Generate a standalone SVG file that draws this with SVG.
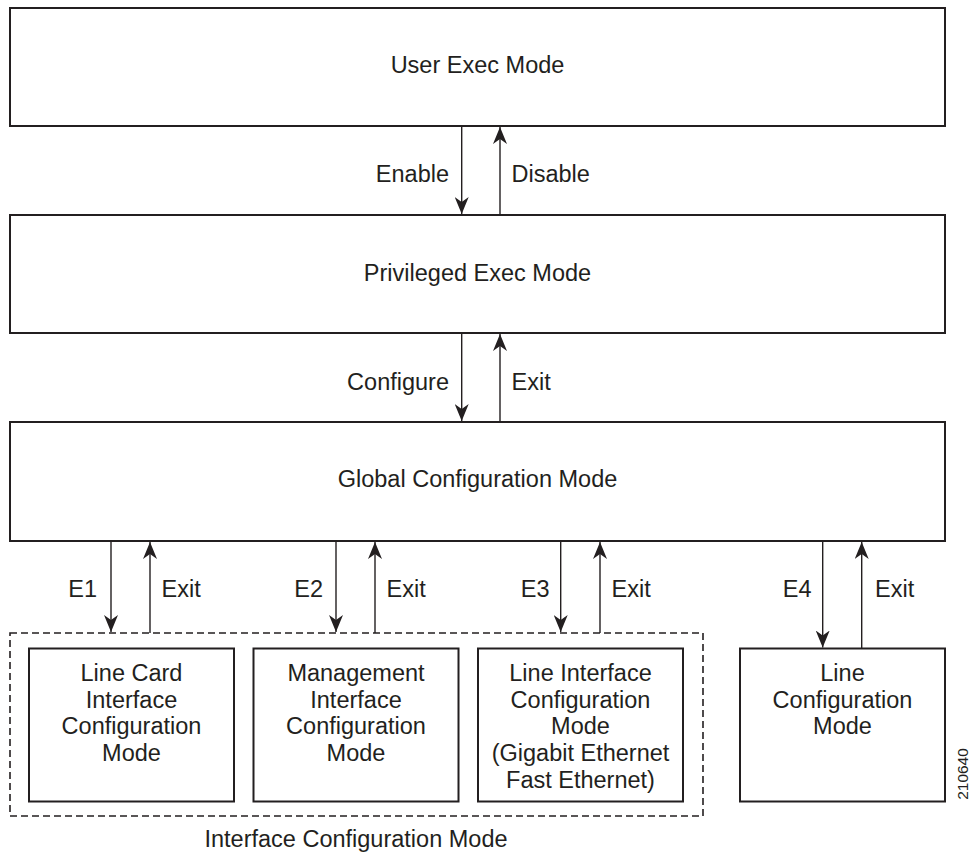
<svg xmlns="http://www.w3.org/2000/svg" width="971" height="854" viewBox="0 0 971 854">
<style>
  .box { fill: #fff; stroke: #231f20; stroke-width: 2; }
  .dash { fill: none; stroke: #231f20; stroke-width: 1.6; stroke-dasharray: 7 4; }
  .t { font-family: "Liberation Sans", Arial, Helvetica, sans-serif; font-size: 23.5px; fill: #231f20; }
  .c { text-anchor: middle; }
  .r { text-anchor: end; }
  .conn line { stroke: #231f20; stroke-width: 1.4; }
  .small { font-family: "Liberation Sans", Arial, sans-serif; font-size: 15.5px; fill: #231f20; text-anchor: middle; }
</style>
<defs>
  <marker id="ah" viewBox="0 0 17 14" refX="17" refY="7" markerWidth="17" markerHeight="14" markerUnits="userSpaceOnUse" orient="auto">
    <path d="M0,0 L17,7 L0,14 L5,7 Z" fill="#231f20"/>
  </marker>
</defs>
<rect width="971" height="854" fill="#fff"/>

<g id="user-exec">
  <rect class="box" x="10" y="8" width="935" height="118"/>
  <text class="t c" x="477.5" y="73">User Exec Mode</text>
</g>
<g id="privileged-exec">
  <rect class="box" x="10" y="215" width="935" height="118"/>
  <text class="t c" x="477.5" y="281">Privileged Exec Mode</text>
</g>
<g id="global-config">
  <rect class="box" x="10" y="422" width="935" height="119"/>
  <text class="t c" x="477.5" y="487">Global Configuration Mode</text>
</g>
<g id="interface-config">
  <rect class="dash" x="10" y="633" width="693" height="183"/>
  <text class="t c" x="356" y="847">Interface Configuration Mode</text>
</g>
<g id="line-card">
  <rect class="box" x="29" y="648.5" width="205" height="153"/>
  <text class="t c" x="131.5" y="681">Line Card</text>
  <text class="t c" x="131.5" y="707.5">Interface</text>
  <text class="t c" x="131.5" y="734">Configuration</text>
  <text class="t c" x="131.5" y="761">Mode</text>
</g>
<g id="management">
  <rect class="box" x="253.5" y="648.5" width="205" height="153"/>
  <text class="t c" x="356" y="681">Management</text>
  <text class="t c" x="356" y="707.5">Interface</text>
  <text class="t c" x="356" y="734">Configuration</text>
  <text class="t c" x="356" y="761">Mode</text>
</g>
<g id="line-interface">
  <rect class="box" x="478" y="648.5" width="205" height="153"/>
  <text class="t c" x="580.5" y="681">Line Interface</text>
  <text class="t c" x="580.5" y="707.5">Configuration</text>
  <text class="t c" x="580.5" y="734">Mode</text>
  <text class="t c" x="580.5" y="761">(Gigabit Ethernet</text>
  <text class="t c" x="580.5" y="787.5">Fast Ethernet)</text>
</g>
<g id="line-config">
  <rect class="box" x="740" y="648.5" width="205" height="153"/>
  <text class="t c" x="842.5" y="681">Line</text>
  <text class="t c" x="842.5" y="707.5">Configuration</text>
  <text class="t c" x="842.5" y="734">Mode</text>
</g>

<g id="connectors" class="conn">
  <line x1="461.7" y1="126" x2="461.7" y2="214" marker-end="url(#ah)"/>
  <line x1="500" y1="215" x2="500" y2="127" marker-end="url(#ah)"/>
  <line x1="461.7" y1="333" x2="461.7" y2="421" marker-end="url(#ah)"/>
  <line x1="500" y1="422" x2="500" y2="334" marker-end="url(#ah)"/>
  <line x1="111" y1="541" x2="111" y2="632" marker-end="url(#ah)"/>
  <line x1="150" y1="633" x2="150" y2="542" marker-end="url(#ah)"/>
  <line x1="336" y1="541" x2="336" y2="632" marker-end="url(#ah)"/>
  <line x1="375" y1="633" x2="375" y2="542" marker-end="url(#ah)"/>
  <line x1="560.7" y1="541" x2="560.7" y2="632" marker-end="url(#ah)"/>
  <line x1="600" y1="633" x2="600" y2="542" marker-end="url(#ah)"/>
  <line x1="822.7" y1="541" x2="822.7" y2="647.5" marker-end="url(#ah)"/>
  <line x1="861.7" y1="648.5" x2="861.7" y2="542" marker-end="url(#ah)"/>
</g>

<g id="labels">
  <text class="t r" x="449" y="182">Enable</text>
  <text class="t" x="511.5" y="182">Disable</text>
  <text class="t r" x="449" y="389.5">Configure</text>
  <text class="t" x="511.5" y="389.5">Exit</text>
  <text class="t r" x="97" y="597">E1</text>
  <text class="t" x="161.5" y="597">Exit</text>
  <text class="t r" x="323" y="597">E2</text>
  <text class="t" x="386.5" y="597">Exit</text>
  <text class="t r" x="549.5" y="597">E3</text>
  <text class="t" x="611.5" y="597">Exit</text>
  <text class="t r" x="811.5" y="597">E4</text>
  <text class="t" x="875" y="597">Exit</text>
  <text class="small" transform="translate(968,774) rotate(-90)">210640</text>
</g>
</svg>
